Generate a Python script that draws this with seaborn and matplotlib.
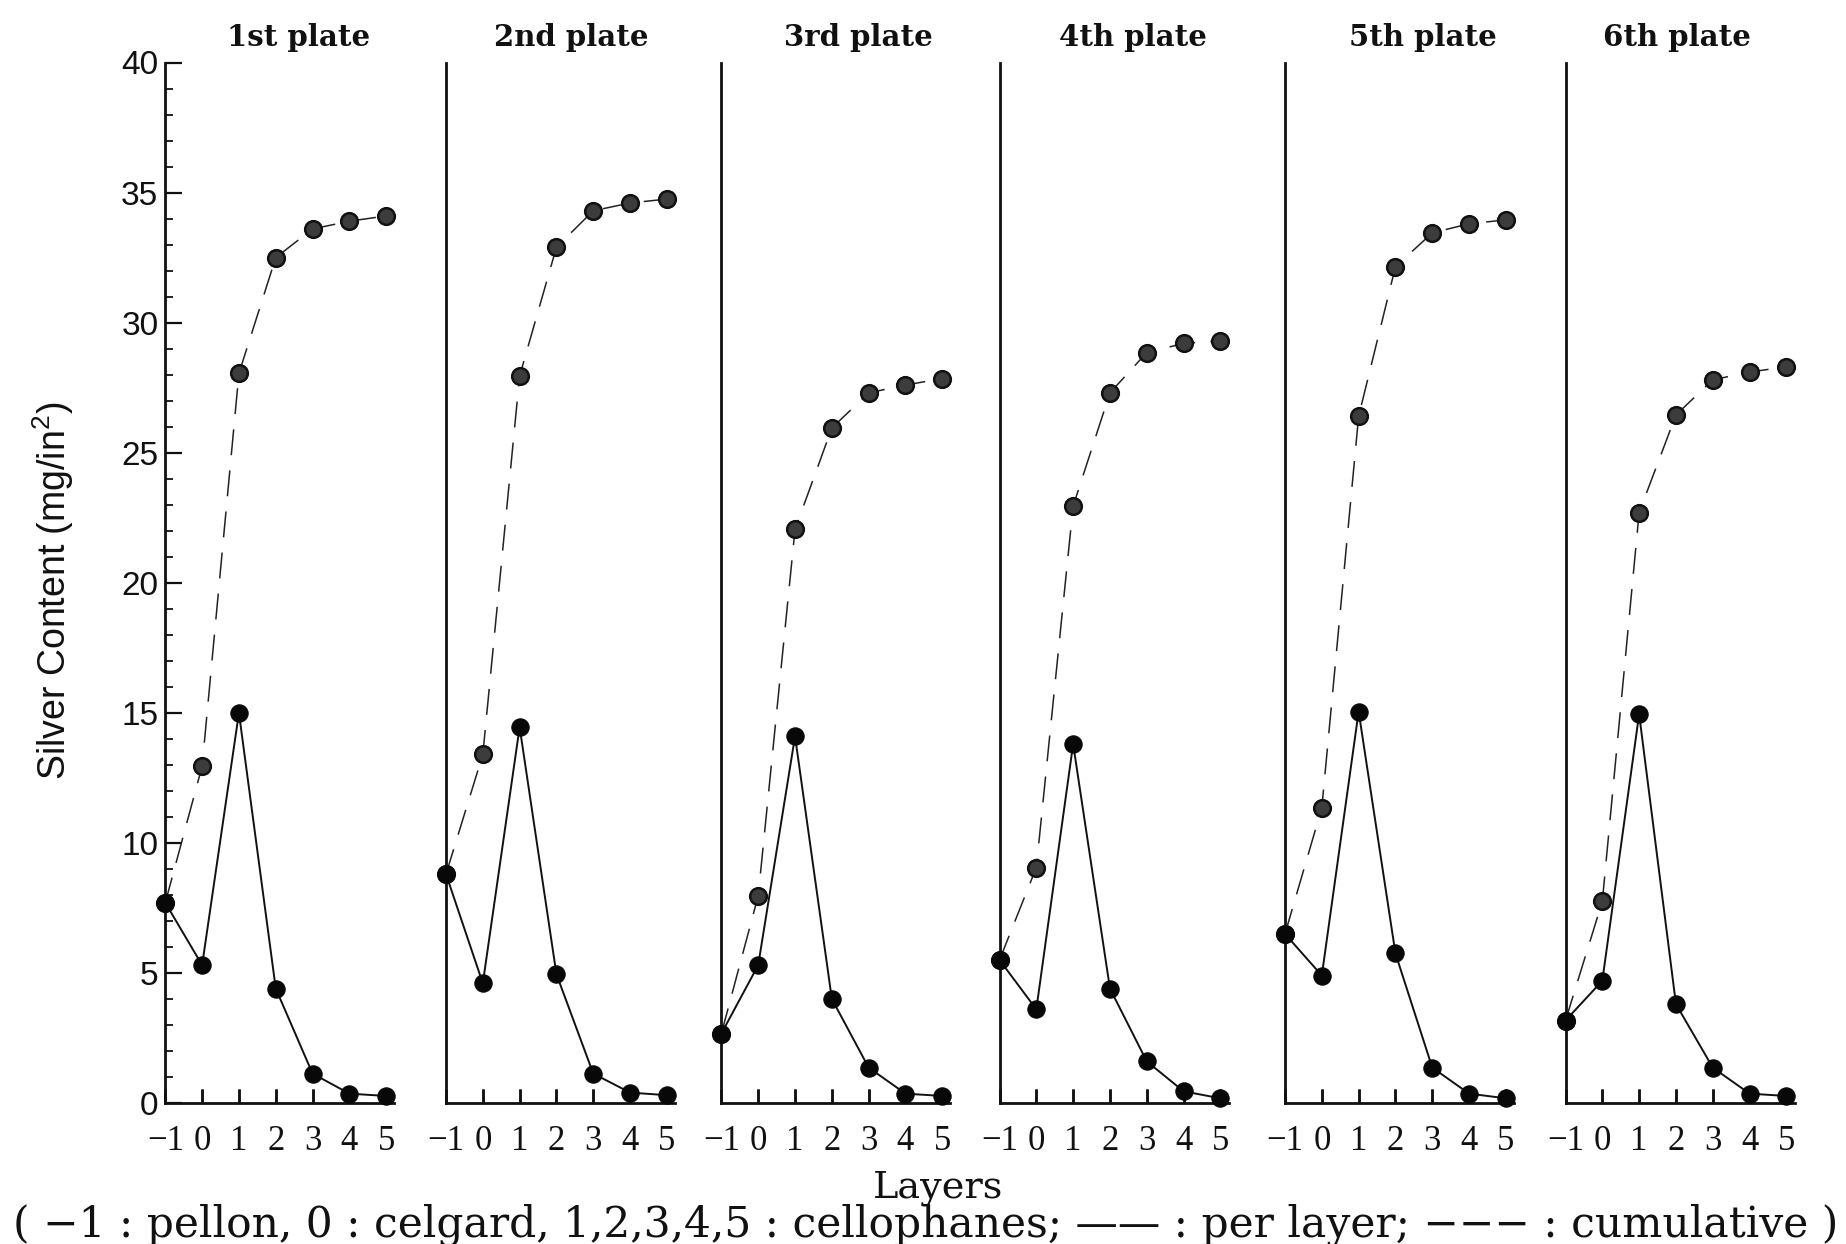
import matplotlib
matplotlib.use("Agg")
import matplotlib.pyplot as plt
import seaborn as sns
import pandas as pd
from matplotlib.ticker import MultipleLocator, FixedLocator

# ---------------- data ----------------
layers = [-1, 0, 1, 2, 3, 4, 5]
layer_labels = ["\u22121", "0", "1", "2", "3", "4", "5"]
plate_titles = ["1st plate", "2nd plate", "3rd plate", "4th plate", "5th plate", "6th plate"]

per_layer_p1 = [7.7, 5.3, 15.0, 4.4, 1.13, 0.36, 0.27]
per_layer_p2 = [8.8, 4.6, 14.45, 4.95, 1.13, 0.4, 0.3]
per_layer_p3 = [2.67, 5.3, 14.1, 4.0, 1.36, 0.36, 0.27]
per_layer_p4 = [5.5, 3.6, 13.8, 4.4, 1.6, 0.45, 0.18]
per_layer_p5 = [6.5, 4.9, 15.05, 5.75, 1.36, 0.36, 0.18]
per_layer_p6 = [3.17, 4.7, 14.95, 3.8, 1.36, 0.36, 0.27]

cumulative_p1 = [7.7, 12.95, 28.05, 32.5, 33.6, 33.9, 34.1]
cumulative_p2 = [8.8, 13.4, 27.95, 32.9, 34.3, 34.6, 34.75]
cumulative_p3 = [2.67, 7.97, 22.05, 25.95, 27.3, 27.6, 27.85]
cumulative_p4 = [5.5, 9.05, 22.95, 27.3, 28.85, 29.2, 29.3]
cumulative_p5 = [6.5, 11.35, 26.4, 32.15, 33.45, 33.8, 33.95]
cumulative_p6 = [3.17, 7.75, 22.7, 26.45, 27.8, 28.1, 28.3]

per_layer = [per_layer_p1, per_layer_p2, per_layer_p3, per_layer_p4, per_layer_p5, per_layer_p6]
cumulative = [cumulative_p1, cumulative_p2, cumulative_p3, cumulative_p4, cumulative_p5, cumulative_p6]

rows = []
for title, pl, cu in zip(plate_titles, per_layer, cumulative):
    for x, a, c in zip(layers, pl, cu):
        rows.append({"plate": title, "layer": x, "series": "per layer", "value": a})
        rows.append({"plate": title, "layer": x, "series": "cumulative", "value": c})
df = pd.DataFrame(rows)

# ---------------- style ----------------
sns.set_style("ticks")
plt.rcParams["font.family"] = ["DejaVu Serif"]
plt.rcParams["axes.linewidth"] = 2.0
plt.rcParams["axes.axisbelow"] = False
plt.rcParams["mathtext.fontset"] = "custom"
plt.rcParams["mathtext.rm"] = "Liberation Sans"
plt.rcParams["mathtext.it"] = "Liberation Sans"
plt.rcParams["mathtext.bf"] = "Liberation Sans:bold"

W, H = 1846, 1244
fig = plt.figure(figsize=(W / 100, H / 100), dpi=100)
fig.patch.set_facecolor("white")

panel_left_px = [165.3, 446, 721.4, 999.5, 1285, 1565.5]
title_x_frac = [0.58, 0.546, 0.597, 0.581, 0.604, 0.485]
axes_w_px = 229
y0_px, y40_px = 1103, 62.5
tick_len_px = 14

for i, (title, left) in enumerate(zip(plate_titles, panel_left_px)):
    ax = fig.add_axes([left / W, 1 - y0_px / H, axes_w_px / W, (y0_px - y40_px) / H])
    ax.set_axisbelow(False)
    sub = df[df["plate"] == title]
    sns.lineplot(data=sub[sub["series"] == "cumulative"], x="layer", y="value", ax=ax,
                 color="#222222", linewidth=1.1, linestyle=(0, (17, 10)),
                 marker="o", markersize=12, markerfacecolor="#3c3c3c",
                 markeredgecolor="#111111", markeredgewidth=1.8, errorbar=None,
                 clip_on=False, zorder=3)
    sns.lineplot(data=sub[sub["series"] == "per layer"], x="layer", y="value", ax=ax,
                 color="#111111", linewidth=1.4, linestyle="-",
                 marker="o", markersize=12.5, markerfacecolor="#080808",
                 markeredgecolor="#080808", errorbar=None, clip_on=False, zorder=4)
    # inward tick marks along the layer axis
    sns.rugplot(x=layers, ax=ax, height=tick_len_px / (y0_px - y40_px), color="#111111",
                linewidth=1.8, clip_on=False, zorder=2.6)
    ax.set_xlim(-1, 5.22)
    ax.set_ylim(0, 40)
    for s in ["top", "right"]:
        ax.spines[s].set_visible(False)
    for s in ["left", "bottom"]:
        ax.spines[s].set_linewidth(2.0)
        ax.spines[s].set_color("#111111")
    ax.xaxis.set_major_locator(FixedLocator(layers))
    ax.set_xticklabels(layer_labels, family="Liberation Serif", fontsize=25)
    ax.tick_params(axis="x", which="major", bottom=True, top=False, direction="in",
                   length=10, width=1.8, pad=16, color="#111111", labelcolor="#111111")
    ax.set_xlabel("")
    ax.set_ylabel("")
    if i == 0:
        ax.yaxis.set_major_locator(MultipleLocator(5))
        ax.yaxis.set_minor_locator(MultipleLocator(1))
        ax.tick_params(axis="y", which="major", direction="in", length=12, width=1.6, pad=5,
                       labelsize=24, colors="#111111")
        ax.tick_params(axis="y", which="minor", left=True, direction="in", length=5.5, width=1.3,
                       color="#111111")
        for lab in ax.get_yticklabels():
            lab.set_family("Liberation Sans")
    else:
        ax.tick_params(axis="y", which="both", left=False, labelleft=False)
    ax.text(title_x_frac[i], 1 + 25 / (y0_px - y40_px), title, transform=ax.transAxes,
            ha="center", va="center", fontsize=21, fontweight="bold", family="DejaVu Serif",
            color="#111111")

fig.text(53 / W, 1 - 591 / H, r"Silver Content (mg/in$^{2}$)", rotation=90, ha="center",
         va="center", fontsize=27, family="Liberation Sans", color="#111111")
fig.text(938 / W, 1 - 1188 / H, "Layers", ha="center", va="center", fontsize=27.5,
         family="DejaVu Serif", color="#111111")
fig.text(926 / W, 1 - 1225 / H,
         "( \u22121 : pellon, 0 : celgard, 1,2,3,4,5 : cellophanes; \u2014\u2014 : per layer; "
         "\u2212\u2212\u2212 : cumulative )",
         ha="center", va="center", fontsize=30.5, family="DejaVu Serif", color="#111111")

fig.savefig("out.png", dpi=100, facecolor="white")
